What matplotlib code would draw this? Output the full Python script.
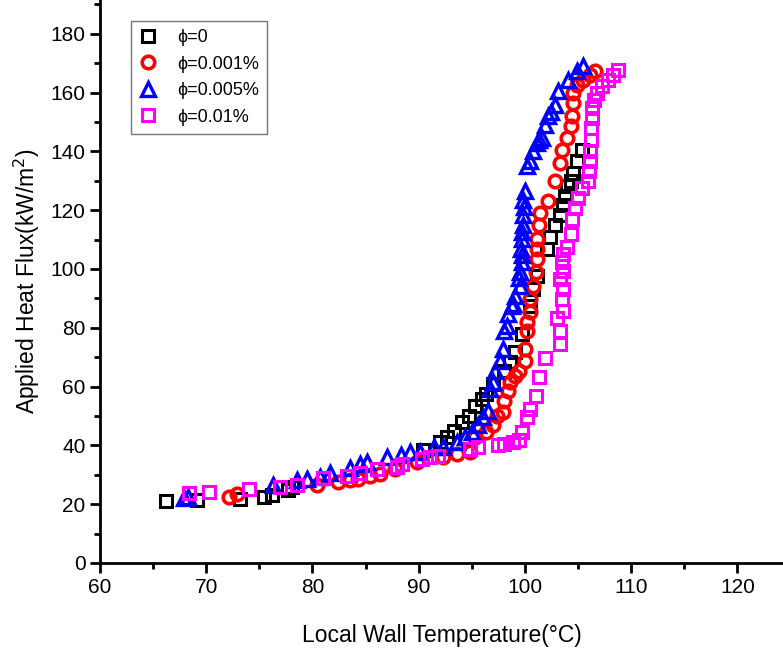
import numpy as np
import matplotlib
matplotlib.use('Agg')
import matplotlib.pyplot as plt
from matplotlib.ticker import MultipleLocator

plt.rcParams['font.family'] = ['Liberation Sans', 'DejaVu Sans']

# phi = 0
t_0 = [66.2, 69.1, 73.2, 75.4, 76.2, 77.7, 78.1, 90.4, 92.0, 92.7, 93.3, 94.1, 94.7,
       95.3, 96.0, 96.3, 97.0, 98.0, 98.6, 99.1, 99.7, 100.5, 100.8, 101.1, 102.1,
       102.4, 102.8, 103.3, 103.6, 103.8, 104.0, 104.3, 104.5, 104.9, 105.4]
q_0 = [21.2, 21.5, 21.9, 22.6, 23.2, 24.9, 26.0, 38.6, 41.0, 43.0, 44.8, 47.8, 50.0,
       53.3, 55.7, 57.4, 60.8, 65.2, 68.3, 71.7, 77.9, 87.4, 93.2, 97.7, 106.9,
       111.0, 114.8, 118.2, 121.6, 125.0, 128.4, 130.0, 132.5, 136.6, 140.4]

# phi = 0.001%
t_1 = [72.1, 72.9, 80.4, 82.4, 83.5, 84.3, 85.4, 86.4, 87.8, 89.8, 92.3, 93.6, 94.8,
       95.3, 96.3, 97.0, 97.4, 97.9, 98.0, 98.4, 98.6, 99.1, 99.4, 100.0, 100.0,
       100.2, 100.2, 100.5, 100.5, 100.8, 101.0, 101.1, 101.1, 101.1, 101.3, 101.4,
       102.2, 102.8, 103.3, 103.5, 104.0, 104.3, 104.4, 104.5, 104.5, 104.9, 105.5,
       106.1, 106.6]
q_1 = [22.5, 23.6, 26.6, 27.7, 28.3, 28.7, 29.7, 30.4, 31.8, 34.2, 36.2, 37.2, 37.9,
       42.7, 44.4, 47.1, 49.9, 51.2, 55.0, 58.4, 61.5, 63.5, 65.2, 68.6, 72.7,
       78.9, 82.0, 85.4, 89.8, 94.3, 99.0, 103.5, 106.9, 110.3, 114.8, 118.9,
       123.0, 129.8, 135.9, 140.4, 144.5, 148.6, 152.0, 156.4, 159.8, 162.6, 164.3,
       166.0, 167.3]

# phi = 0.005%
t_5 = [67.9, 68.3, 76.3, 78.5, 79.5, 80.7, 81.7, 83.5, 84.5, 85.1, 87.0, 88.3, 89.2,
       90.1, 91.4, 92.3, 93.6, 94.4, 95.0, 95.6, 96.1, 96.5, 96.7, 97.0, 97.2,
       97.7, 97.9, 98.0, 98.3, 98.4, 98.8, 98.9, 99.1, 99.5, 99.4, 99.5, 99.7,
       99.7, 99.6, 99.7, 99.7, 99.8, 99.8, 99.9, 99.8, 100.0, 100.2, 100.5, 100.8,
       101.1, 101.3, 101.6, 101.9, 102.2, 102.5, 102.8, 103.1, 104.1, 104.9, 105.5]
q_5 = [22.2, 22.5, 26.6, 28.3, 28.7, 29.4, 30.7, 32.4, 33.5, 34.2, 35.9, 36.9, 37.6,
       37.9, 39.3, 39.6, 41.0, 42.7, 44.7, 47.1, 49.5, 51.6, 59.1, 61.5, 65.2,
       68.6, 72.7, 78.9, 80.6, 84.7, 87.4, 88.1, 90.8, 94.3, 97.0, 99.0, 102.5,
       104.8, 106.9, 110.3, 112.5, 114.8, 118.2, 121.0, 123.3, 126.7, 134.9, 136.6,
       140.0, 142.8, 143.8, 144.5, 148.9, 152.0, 153.5, 155.7, 160.5, 164.3, 167.3,
       169.1]

# phi = 0.01%
t_10 = [68.4, 70.3, 74.0, 76.9, 78.5, 81.0, 83.3, 84.5, 86.1, 88.0, 88.4, 90.3, 91.1,
        91.8, 94.8, 95.6, 97.5, 98.0, 98.9, 99.4, 99.7, 100.2, 100.5, 101.0, 101.3,
        101.9, 103.3, 103.3, 103.0, 103.6, 103.5, 103.6, 103.3, 103.6, 103.5, 103.6,
        104.0, 104.3, 104.4, 104.7, 105.0, 105.4, 105.9, 106.0, 106.1, 106.1, 106.2,
        106.2, 106.3, 106.3, 106.5, 106.8, 107.3, 107.8, 108.3, 108.8]
q_10 = [23.9, 24.2, 25.3, 26.0, 26.6, 29.0, 29.7, 30.7, 32.1, 32.8, 33.5, 35.2, 35.9,
        36.5, 38.9, 39.3, 40.3, 40.6, 41.3, 42.0, 44.4, 49.5, 52.3, 56.7, 63.2,
        69.7, 74.5, 78.9, 83.3, 85.7, 89.8, 93.2, 96.7, 99.4, 102.5, 105.2,
        107.6, 112.0, 117.1, 120.6, 124.0, 127.4, 129.8, 133.2, 136.6, 140.0, 143.8,
        147.9, 151.3, 154.7, 157.4, 159.8, 162.2, 164.3, 166.0, 167.7]

labels = ['\u03d5=0', '\u03d5=0.001%', '\u03d5=0.005%', '\u03d5=0.01%']

fig = plt.figure(figsize=(7.83, 6.48), dpi=100)
ax = fig.add_axes([0.1277, 0.1312, 0.8723, 0.8688])

ax.plot(t_0, q_0, ls='none', marker='s', ms=8, mfc='none', mec='black', mew=2.2, label=labels[0])
ax.plot(t_1, q_1, ls='none', marker='o', ms=9, mfc='none', mec='#ff0000', mew=2.6, label=labels[1])
ax.plot(t_5, q_5, ls='none', marker='^', ms=10, mfc='none', mec='#0000ff', mew=2.4, label=labels[2])
ax.plot(t_10, q_10, ls='none', marker='s', ms=8, mfc='none', mec='#ff00ff', mew=2.2, label=labels[3])

ax.set_xlim(60, 124.3)
ax.set_ylim(0, 191.5)
ax.xaxis.set_major_locator(MultipleLocator(10))
ax.xaxis.set_minor_locator(MultipleLocator(5))
ax.yaxis.set_major_locator(MultipleLocator(20))
ax.yaxis.set_minor_locator(MultipleLocator(10))

for s in ['top', 'right']:
    ax.spines[s].set_visible(False)
for s in ['left', 'bottom']:
    ax.spines[s].set_linewidth(2)

ax.tick_params(which='major', direction='out', length=7, width=2, labelsize=15)
ax.tick_params(which='minor', direction='out', length=4, width=2)

ax.set_xlabel('Local Wall Temperature(\u00b0C)', fontsize=16.5, labelpad=20)
ax.set_ylabel('Applied Heat Flux(kW/m$^2$)', fontsize=16.5, labelpad=6)

leg = ax.legend(loc='upper left', bbox_to_anchor=(0.045, 0.963), fontsize=13,
                frameon=True, fancybox=False, edgecolor='#555555',
                handlelength=1.0, handletextpad=1.1, borderpad=0.45,
                labelspacing=0.53, borderaxespad=0)
leg.get_frame().set_linewidth(1)

fig.savefig('out.png', dpi=100)
